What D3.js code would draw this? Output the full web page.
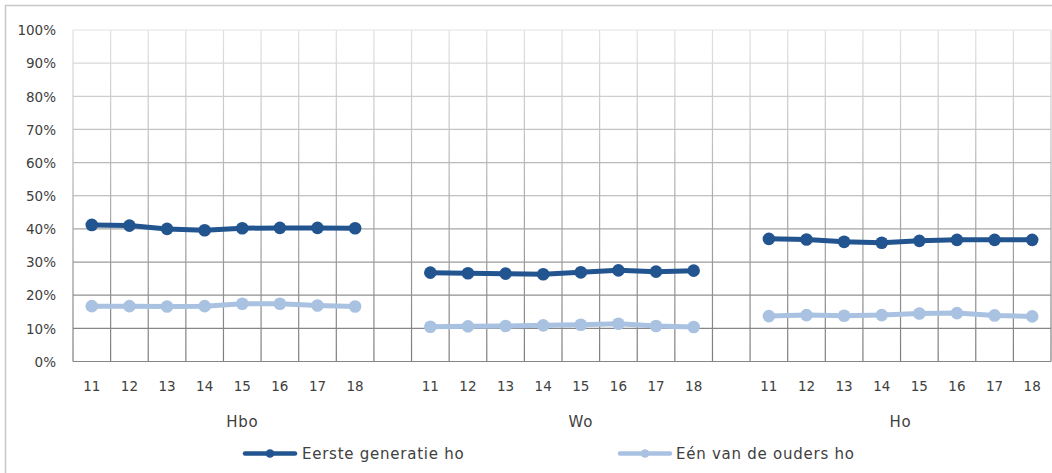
<!DOCTYPE html>
<html><head><meta charset="utf-8">
<script src="https://cdn.jsdelivr.net/npm/d3@7"></script>
<style>body{margin:0;background:#fff}svg{display:block}text{font-family:"DejaVu Sans",Verdana,sans-serif;fill:#404040}</style>
</head><body><svg id="c" width="1052" height="473"></svg>
<script>
const groups = ["Hbo", "Wo", "Ho"];
const years = ["11","12","13","14","15","16","17","18"];
const eersteGeneratie = {
  Hbo: [41.2, 41.0, 40.0, 39.6, 40.2, 40.3, 40.3, 40.2],
  Wo:  [26.8, 26.6, 26.5, 26.3, 26.9, 27.5, 27.1, 27.4],
  Ho:  [37.0, 36.8, 36.1, 35.8, 36.4, 36.7, 36.7, 36.7]
};
const eenVanOuders = {
  Hbo: [16.7, 16.7, 16.6, 16.7, 17.4, 17.4, 16.9, 16.6],
  Wo:  [10.5, 10.6, 10.7, 10.9, 11.1, 11.4, 10.7, 10.4],
  Ho:  [13.7, 14.0, 13.8, 14.0, 14.5, 14.6, 13.9, 13.6]
};
const yTicks = [0,10,20,30,40,50,60,70,80,90,100];
const seriesNames = ["Eerste generatie ho", "Eén van de ouders ho"];
const colors = ["#22548f", "#a9c2e1"];

const svg = d3.select("#c");
const L = 73, R = 1051, T = 30, B = 361.5;

// category slots: each group has 8 years + one blank slot (except the last)
const slots = [];
groups.forEach((g, gi) => {
  years.forEach(y => slots.push(g + "|" + y));
  if (gi < groups.length - 1) slots.push(g + "|blank");
});
const x = d3.scaleBand().domain(slots).range([L, R]);
const y = d3.scaleLinear().domain([0, 100]).range([B, T]);

// chart border
svg.append("rect").attr("x", 5.5).attr("y", 5.5).attr("width", 1060).attr("height", 480)
  .attr("fill", "none").attr("stroke", "#c8c8c8").attr("stroke-width", 1.5);

const defs = svg.append("defs");
const grad = defs.append("linearGradient").attr("id", "gg")
  .attr("gradientUnits", "userSpaceOnUse").attr("x1", 0).attr("x2", 0).attr("y1", T).attr("y2", B);
grad.append("stop").attr("offset", 0).attr("stop-color", "#e2e2e2");
grad.append("stop").attr("offset", 1).attr("stop-color", "#7c7c7c");

const grid = svg.append("g");
yTicks.forEach(t => {
  grid.append("line").attr("x1", L).attr("x2", R).attr("y1", y(t)).attr("y2", y(t))
    .attr("stroke", "url(#gg)").attr("stroke-width", 1.2);
});
const bounds = slots.map(s => x(s)).concat([R]);
bounds.forEach(bx => {
  grid.append("rect").attr("x", bx - 0.6).attr("y", T).attr("width", 1.2).attr("height", B - T)
    .attr("fill", "url(#gg)");
});
grid.append("line").attr("x1", L).attr("x2", R).attr("y1", B).attr("y2", B).attr("stroke", "#868686").attr("stroke-width", 1.2);

// y axis labels
const yAxis = d3.axisLeft(y).tickValues(yTicks).tickFormat(d => d + "%").tickSize(0).tickPadding(17);
const ya = svg.append("g").attr("transform", `translate(${L},0)`).call(yAxis);
ya.select(".domain").remove();
ya.selectAll("text").style("font-size", "13.5px").attr("fill", "#404040").attr("dy", "0.35em");

// x axis labels
const xa = svg.append("g");
groups.forEach(g => {
  years.forEach(yr => {
    xa.append("text").attr("x", x(g + "|" + yr) + x.bandwidth() / 2).attr("y", 390.5)
      .attr("text-anchor", "middle").style("font-size", "13.5px").text(yr);
  });
  const first = x(g + "|11");
  const last = g === groups[groups.length - 1] ? R : x(g + "|blank") + x.bandwidth();
  xa.append("text").attr("x", (first + last) / 2).attr("y", 427)
    .attr("text-anchor", "middle").style("font-size", "15px").style("letter-spacing", "0.75px").text(g);
});

// series
const seriesData = [eersteGeneratie, eenVanOuders];
const line = d3.line().x(d => x(d.slot) + x.bandwidth() / 2).y(d => y(d.v));
seriesData.forEach((sd, si) => {
  const gEl = svg.append("g");
  groups.forEach(g => {
    const pts = sd[g].map((v, i) => ({slot: g + "|" + years[i], v}));
    gEl.append("path").attr("d", line(pts)).attr("fill", "none")
      .attr("stroke", colors[si]).attr("stroke-width", 5).attr("stroke-linejoin", "round");
    gEl.selectAll(null).data(pts).enter().append("circle")
      .attr("cx", d => x(d.slot) + x.bandwidth() / 2).attr("cy", d => y(d.v)).attr("r", 6.3)
      .attr("fill", colors[si]);
  });
});

// legend
const legendPos = [{x0: 245, x1: 295, tx: 302}, {x0: 620, x1: 670, tx: 676}];
const ly = 453.5;
seriesNames.forEach((n, i) => {
  const lp = legendPos[i];
  svg.append("line").attr("x1", lp.x0).attr("x2", lp.x1).attr("y1", ly).attr("y2", ly)
    .attr("stroke", colors[i]).attr("stroke-width", 4.5).attr("stroke-linecap", "round");
  svg.append("circle").attr("cx", (lp.x0 + lp.x1) / 2).attr("cy", ly).attr("r", 4.3).attr("fill", colors[i]);
  svg.append("text").attr("x", lp.tx).attr("y", 459).style("font-size", "15px")
    .style("letter-spacing", "0.75px").text(n);
});
</script></body></html>
